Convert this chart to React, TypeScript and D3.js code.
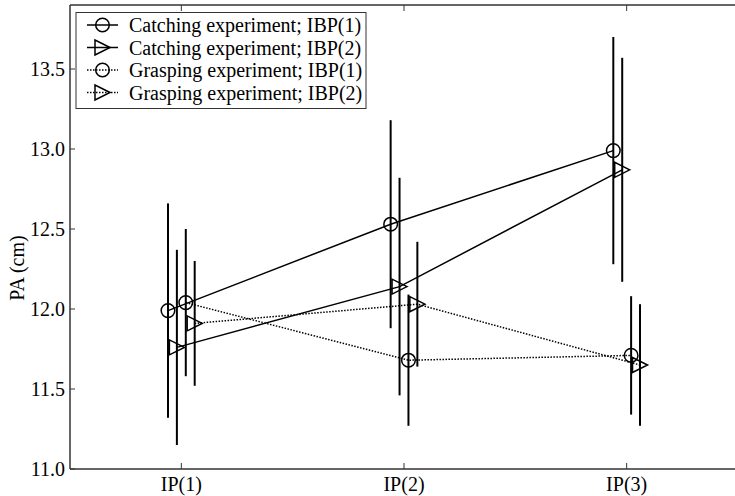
import React from "react";
import * as d3 from "d3";

const categories = ["IP(1)", "IP(2)", "IP(3)"];
const yTicks = [11.0, 11.5, 12.0, 12.5, 13.0, 13.5];

const catchingIBP1 = [11.99, 12.53, 12.99];
const catchingIBP1Err = [0.67, 0.65, 0.71];
const catchingIBP2 = [11.76, 12.14, 12.87];
const catchingIBP2Err = [0.61, 0.68, 0.7];
const graspingIBP1 = [12.04, 11.68, 11.71];
const graspingIBP1Err = [0.46, 0.41, 0.37];
const graspingIBP2 = [11.91, 12.03, 11.65];
const graspingIBP2Err = [0.39, 0.39, 0.38];

const seriesNames = [
  "Catching experiment; IBP(1)",
  "Catching experiment; IBP(2)",
  "Grasping experiment; IBP(1)",
  "Grasping experiment; IBP(2)",
];
const seriesValues = [catchingIBP1, catchingIBP2, graspingIBP1, graspingIBP2];
const seriesErrs = [catchingIBP1Err, catchingIBP2Err, graspingIBP1Err, graspingIBP2Err];
const seriesMarker = ["circle", "triangle", "circle", "triangle"];
const seriesDotted = [false, false, true, true];
const seriesOffset = [-0.06, -0.02, 0.02, 0.06];

const W = 735;
const H = 496;
const left = 70;
const right = 738;
const top = 5;
const bottom = 469;
const FONT = "Liberation Serif, Times New Roman, DejaVu Serif, serif";
const txt = { fontFamily: FONT, fontSize: "20px" } as React.CSSProperties;

function Marker({ type, x, y }: { type: string; x: number; y: number }) {
  if (type === "circle") {
    return <circle cx={x} cy={y} r={6.8} fill="none" stroke="#000" strokeWidth={1.5} />;
  }
  const h = 7.5;
  const pts = `${x + h},${y} ${x - h},${y - h} ${x - h},${y + h}`;
  return <polygon points={pts} fill="none" stroke="#000" strokeWidth={1.5} />;
}

export default function App() {
  const x = d3.scaleLinear().domain([0.5, 3.5]).range([left, right]);
  const y = d3.scaleLinear().domain([11, 13.9]).range([bottom, top]);
  const line = d3
    .line<[number, number]>()
    .x((d) => d[0])
    .y((d) => d[1]);
  const axisColor = "#333";

  return (
    <svg width={W} height={H} style={{ position: "absolute", left: 0, top: 0, background: "#fff" }}>
      <rect x={0} y={0} width={W} height={H} fill="#fff" />
      {/* frame */}
      <line x1={left} y1={top} x2={left} y2={bottom} stroke={axisColor} strokeWidth={1.5} />
      <line x1={left} y1={bottom} x2={right} y2={bottom} stroke={axisColor} strokeWidth={1.5} />
      <line x1={left} y1={top} x2={right} y2={top} stroke={axisColor} strokeWidth={1.5} />
      {/* y ticks */}
      {yTicks.map((t) => (
        <g key={t}>
          <line x1={left} x2={left + 5} y1={y(t)} y2={y(t)} stroke={axisColor} strokeWidth={1} />
          <text x={left - 5} y={y(t)} textAnchor="end" dominantBaseline="central" style={txt} fill="#000">
            {t.toFixed(1)}
          </text>
        </g>
      ))}
      {/* x ticks */}
      {categories.map((c, i) => (
        <g key={c}>
          <line x1={x(i + 1)} x2={x(i + 1)} y1={bottom} y2={bottom - 6} stroke={axisColor} strokeWidth={1} />
          <line x1={x(i + 1)} x2={x(i + 1)} y1={top} y2={top + 6} stroke={axisColor} strokeWidth={1} />
          <text x={x(i + 1)} y={bottom + 22} textAnchor="middle" style={txt} fill="#000">
            {c}
          </text>
        </g>
      ))}
      <text transform={`translate(24, 268) rotate(-90)`} textAnchor="middle" style={txt} fill="#000">
        PA (cm)
      </text>
      {/* series lines */}
      {seriesValues.map((vals, s) => (
        <path
          key={`l${s}`}
          d={line(vals.map((v, i) => [x(i + 1 + seriesOffset[s]), y(v)]))!}
          fill="none"
          stroke="#000"
          strokeWidth={1.5}
          strokeDasharray={seriesDotted[s] ? "1.5,1.5" : undefined}
        />
      ))}
      {/* error bars */}
      {seriesValues.map((vals, s) =>
        vals.map((v, i) => (
          <line
            key={`e${s}-${i}`}
            x1={x(i + 1 + seriesOffset[s])}
            x2={x(i + 1 + seriesOffset[s])}
            y1={y(v - seriesErrs[s][i])}
            y2={y(v + seriesErrs[s][i])}
            stroke="#000"
            strokeWidth={2}
          />
        ))
      )}
      {/* markers */}
      {seriesValues.map((vals, s) =>
        vals.map((v, i) => (
          <Marker key={`m${s}-${i}`} type={seriesMarker[s]} x={x(i + 1 + seriesOffset[s])} y={y(v)} />
        ))
      )}
      {/* legend */}
      <rect x={76} y={12.5} width={290} height={96} fill="#fff" stroke={axisColor} strokeWidth={1} />
      {seriesNames.map((n, s) => {
        const ly = 25 + s * 22.5;
        return (
          <g key={n}>
            <line
              x1={87}
              x2={118}
              y1={ly}
              y2={ly}
              stroke="#000"
              strokeWidth={1.5}
              strokeDasharray={seriesDotted[s] ? "1.5,1.5" : undefined}
            />
            <Marker type={seriesMarker[s]} x={102.5} y={ly} />
            <text x={129} y={ly} dominantBaseline="central" style={txt} fill="#000">
              {n}
            </text>
          </g>
        );
      })}
    </svg>
  );
}
